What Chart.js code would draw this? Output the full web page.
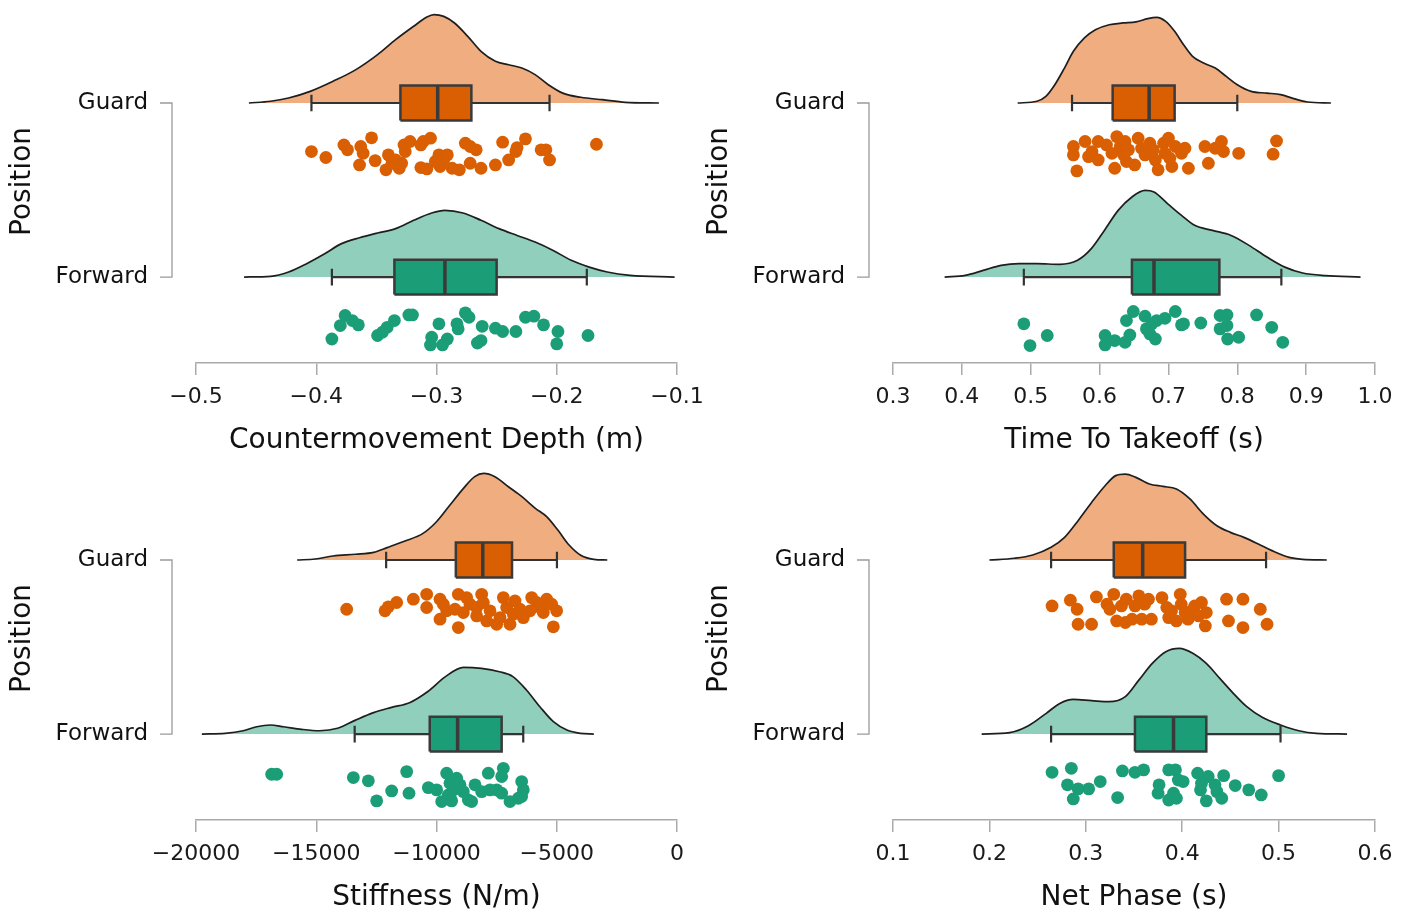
<!DOCTYPE html>
<html>
<head>
<meta charset="utf-8">
<script src="https://cdn.jsdelivr.net/npm/chart.js@4"></script>
<style>
  body { margin: 0; background: #fff; }
  #wrap { position: relative; width: 1411px; height: 913px; }
  canvas { position: absolute; }
</style>
</head>
<body>
<div id="wrap">
  <canvas id="c1" width="720" height="456" style="left:0;top:0"></canvas>
  <canvas id="c2" width="714" height="456" style="left:697px;top:0"></canvas>
  <canvas id="c3" width="720" height="456" style="left:0;top:457px"></canvas>
  <canvas id="c4" width="714" height="456" style="left:697px;top:457px"></canvas>
</div>
<script>
// categories (Guard drawn on top row, Forward below)
var categories = ['Guard', 'Forward'];

// ---- Countermovement Depth (m) ----
var depthTicks = ['\u22120.5', '\u22120.4', '\u22120.3', '\u22120.2', '\u22120.1'];
var depthGuardDensX = [-0.456,-0.438,-0.423,-0.405,-0.386,-0.367,-0.349,-0.334,-0.319,-0.308,-0.302,-0.294,-0.285,-0.274,-0.263,-0.251,-0.240,-0.229,-0.218,-0.207,-0.195,-0.180,-0.162,-0.143,-0.115];
var depthGuardDensH = [0,0.010,0.029,0.067,0.125,0.192,0.278,0.364,0.441,0.494,0.508,0.498,0.460,0.383,0.297,0.240,0.220,0.201,0.163,0.105,0.057,0.033,0.019,0.004,0];
var depthFwdDensX = [-0.460,-0.438,-0.423,-0.408,-0.393,-0.379,-0.364,-0.349,-0.334,-0.319,-0.304,-0.293,-0.278,-0.263,-0.248,-0.233,-0.218,-0.203,-0.188,-0.173,-0.158,-0.139,-0.102];
var depthFwdDensH = [0,0.004,0.029,0.077,0.134,0.192,0.226,0.253,0.278,0.326,0.368,0.383,0.368,0.326,0.278,0.239,0.201,0.153,0.096,0.057,0.029,0.010,0];
// box: [lower whisker, q1, median, q3, upper whisker]
var depthGuardBox = [-0.404,-0.330,-0.299,-0.271,-0.206];
var depthFwdBox = [-0.387,-0.335,-0.293,-0.250,-0.175];
var depthGuardPts = [-0.404,-0.392,-0.377,-0.374,-0.363,-0.361,-0.354,-0.351,-0.364,-0.342,-0.340,-0.334,-0.331,-0.327,-0.326,-0.322,-0.313,-0.311,-0.305,-0.313,-0.308,-0.298,-0.294,-0.291,-0.297,-0.287,-0.281,-0.276,-0.272,-0.267,-0.272,-0.263,-0.251,-0.245,-0.240,-0.234,-0.233,-0.226,-0.213,-0.209,-0.206,-0.167,-0.301,-0.329,-0.337];
var depthGuardJit = [0.021,-0.013,0.059,0.031,0.050,0.011,0.10,-0.031,-0.056,-0.084,0.002,-0.027,-0.075,0.059,0.021,0.079,0.059,0.079,0.098,-0.071,-0.079,0.002,-0.027,0.002,-0.065,-0.075,-0.084,0.069,0.050,0.031,-0.046,-0.075,-0.056,0.075,-0.027,0.021,0.044,0.094,0.031,0.031,-0.027,0.063,-0.036,-0.046,-0.046];
var depthFwdPts = [-0.387,-0.380,-0.376,-0.370,-0.365,-0.349,-0.345,-0.341,-0.335,-0.323,-0.320,-0.304,-0.305,-0.298,-0.295,-0.291,-0.283,-0.282,-0.276,-0.273,-0.266,-0.263,-0.262,-0.251,-0.245,-0.234,-0.226,-0.219,-0.211,-0.199,-0.200,-0.174];
var depthFwdJit = [-0.056,0.021,0.079,0.050,0.025,-0.036,-0.017,0.011,0.050,0.082,0.082,-0.046,-0.090,0.031,-0.090,-0.056,0.031,0.002,0.094,0.069,-0.079,-0.065,0.017,0.006,-0.013,-0.013,0.069,0.075,0.025,-0.013,-0.084,-0.036];

// ---- Time To Takeoff (s) ----
var takeoffTicks = ['0.3', '0.4', '0.5', '0.6', '0.7', '0.8', '0.9', '1.0'];
var takeoffGuardDensX = [0.481,0.509,0.522,0.535,0.549,0.562,0.578,0.594,0.614,0.634,0.653,0.670,0.683,0.696,0.709,0.722,0.735,0.751,0.768,0.784,0.800,0.820,0.843,0.863,0.882,0.902,0.936];
var takeoffGuardDensH = [0,0.010,0.038,0.105,0.201,0.297,0.374,0.421,0.450,0.460,0.466,0.485,0.492,0.469,0.412,0.335,0.268,0.230,0.201,0.153,0.105,0.067,0.057,0.048,0.025,0.006,0];
var takeoffFwdDensX = [0.375,0.405,0.431,0.457,0.483,0.509,0.542,0.568,0.588,0.607,0.627,0.647,0.666,0.679,0.699,0.719,0.738,0.764,0.791,0.817,0.843,0.869,0.895,0.928,0.979];
var takeoffFwdDensH = [0,0.010,0.038,0.067,0.077,0.077,0.073,0.096,0.163,0.268,0.383,0.460,0.498,0.489,0.421,0.354,0.297,0.268,0.239,0.182,0.115,0.057,0.023,0.008,0];
var takeoffGuardBox = [0.560,0.619,0.672,0.709,0.800];
var takeoffFwdBox = [0.490,0.647,0.679,0.774,0.864];
var takeoffGuardPts = [0.562,0.562,0.567,0.579,0.584,0.589,0.598,0.598,0.610,0.618,0.622,0.625,0.630,0.635,0.637,0.642,0.639,0.651,0.656,0.661,0.666,0.673,0.678,0.681,0.685,0.693,0.695,0.700,0.702,0.705,0.710,0.719,0.724,0.729,0.753,0.758,0.768,0.777,0.780,0.802,0.857,0.852];
var takeoffGuardJit = [0.050,0.002,-0.090,0.079,-0.008,0.021,0.079,-0.027,0.059,0.011,-0.075,0.107,0.050,0.002,0.079,0.031,-0.036,-0.056,0.098,0.040,0.002,0.069,0.031,-0.027,-0.084,0.069,0.011,0.098,-0.017,-0.065,0.050,0.011,0.040,-0.075,0.050,-0.046,0.040,0.079,0.021,0.011,0.082,0.006];
var takeoffFwdPts = [0.490,0.499,0.524,0.608,0.608,0.622,0.637,0.639,0.644,0.649,0.666,0.668,0.673,0.681,0.683,0.695,0.710,0.719,0.722,0.747,0.775,0.785,0.775,0.785,0.786,0.802,0.828,0.850,0.866,0.676];
var takeoffFwdJit = [0.031,-0.094,-0.036,-0.036,-0.090,-0.065,-0.075,0.050,-0.033,0.102,0.075,0.002,-0.027,-0.056,0.050,0.063,0.102,0.025,0.031,0.036,0.079,0.082,0.002,0.021,-0.056,-0.046,0.082,0.011,-0.075,0.031];

// ---- Stiffness (N/m) ----
var stiffTicks = ['\u221220000', '\u221215000', '\u221210000', '\u22125000', '0'];
var stiffGuardDensX = [-15794,-15047,-14300,-13365,-12617,-12057,-11309,-10561,-10000,-9440,-8879,-8412,-8038,-7571,-7010,-6449,-5889,-5421,-4954,-4487,-4020,-3459,-2898];
var stiffGuardDensH = [0,0.006,0.023,0.033,0.044,0.071,0.109,0.153,0.220,0.316,0.412,0.479,0.498,0.479,0.421,0.364,0.297,0.249,0.172,0.086,0.029,0.004,0];
var stiffFwdDensX = [-19757,-18785,-18037,-17477,-16916,-16355,-15608,-14860,-14112,-13365,-12617,-11869,-11122,-10374,-9626,-8879,-8131,-7384,-6823,-6262,-5701,-5140,-4579,-4019,-3458];
var stiffFwdDensH = [0,0.004,0.019,0.042,0.052,0.042,0.027,0.019,0.033,0.080,0.123,0.153,0.180,0.243,0.330,0.383,0.377,0.358,0.330,0.253,0.157,0.071,0.023,0.004,0];
var stiffGuardBox = [-12094,-9196,-8076,-6860,-4992];
var stiffFwdBox = [-13402,-10281,-9122,-7291,-6393];
var stiffGuardPts = [-13735,-12141,-12003,-11656,-10963,-10409,-10409,-9854,-9716,-9577,-9854,-9231,-9092,-9092,-8746,-8607,-8330,-8330,-8122,-8053,-7914,-7775,-7498,-7360,-7221,-7082,-6944,-6805,-6736,-6528,-6390,-6043,-5835,-5696,-5558,-5419,-5211,-5004,-5142,-8884,-6112];
var stiffGuardJit = [0.017,0.008,0.031,0.056,0.075,0.103,0.027,0.075,0.046,0.008,-0.040,0.017,0.103,-0.088,0.084,0.046,0.027,-0.021,0.103,0.056,-0.050,0.008,-0.069,-0.031,0.084,0.027,-0.069,-0.011,0.065,0.017,-0.031,0.084,0.056,0.027,-0.002,0.075,0.046,0.008,-0.084,-0.002,0.008];
var stiffFwdPts = [-16854,-16646,-13458,-12834,-12488,-11864,-11240,-11143,-10339,-9993,-9785,-9577,-9439,-9369,-9300,-9161,-9023,-8884,-8676,-8538,-8399,-8122,-7845,-7775,-7498,-7290,-7221,-7290,-6944,-6597,-6459,-6390,-6459,-9508];
var stiffFwdJit = [0.069,0.069,0.050,0.031,-0.084,-0.027,0.084,-0.040,-0.008,-0.021,-0.088,0.075,0.017,-0.084,-0.021,0.046,0.008,-0.031,-0.079,-0.088,0.008,-0.031,0.075,-0.021,-0.021,-0.040,0.103,0.056,-0.088,-0.069,0.027,-0.021,-0.059,-0.050];

// ---- Net Phase (s) ----
var phaseTicks = ['0.1', '0.2', '0.3', '0.4', '0.5', '0.6'];
var phaseGuardDensX = [0.200,0.226,0.245,0.264,0.278,0.292,0.306,0.320,0.331,0.341,0.352,0.366,0.380,0.394,0.408,0.422,0.436,0.450,0.464,0.479,0.493,0.511,0.525,0.550];
var phaseGuardDensH = [0,0.010,0.029,0.073,0.130,0.226,0.331,0.427,0.485,0.494,0.475,0.437,0.423,0.408,0.351,0.264,0.197,0.159,0.130,0.092,0.054,0.015,0.004,0];
var phaseFwdDensX = [0.192,0.221,0.240,0.259,0.273,0.287,0.306,0.324,0.341,0.355,0.369,0.383,0.397,0.411,0.425,0.439,0.453,0.467,0.483,0.502,0.521,0.539,0.571];
var phaseFwdDensH = [0,0.008,0.046,0.119,0.176,0.199,0.192,0.186,0.215,0.310,0.406,0.473,0.492,0.464,0.406,0.320,0.234,0.157,0.096,0.052,0.019,0.004,0];
var phaseGuardBox = [0.264,0.329,0.359,0.403,0.487];
var phaseFwdBox = [0.264,0.351,0.391,0.425,0.502];
var phaseGuardPts = [0.265,0.284,0.291,0.292,0.306,0.311,0.322,0.325,0.329,0.332,0.337,0.341,0.342,0.348,0.351,0.355,0.358,0.361,0.365,0.368,0.379,0.384,0.386,0.389,0.394,0.398,0.399,0.403,0.406,0.410,0.413,0.417,0.420,0.424,0.425,0.446,0.448,0.463,0.463,0.481,0.488];
var phaseGuardJit = [0.036,0.069,0.017,-0.069,-0.069,0.088,0.046,0.017,0.103,-0.050,0.036,-0.059,0.075,-0.040,0.036,0.094,-0.040,0.046,0.075,-0.040,0.084,0.027,-0.031,0.008,-0.050,0.103,0.046,-0.002,-0.040,0.008,0.036,-0.021,0.056,-0.079,-0.002,0.075,-0.050,0.075,-0.088,0.017,-0.069];
var phaseFwdPts = [0.265,0.285,0.281,0.292,0.303,0.315,0.287,0.333,0.338,0.351,0.360,0.376,0.375,0.386,0.393,0.391,0.386,0.396,0.401,0.394,0.416,0.419,0.427,0.425,0.434,0.436,0.441,0.443,0.455,0.469,0.482,0.500,0.420];
var phaseFwdJit = [0.080,0.103,0.008,-0.015,-0.015,0.027,-0.073,-0.065,0.088,0.080,0.094,0.008,-0.040,0.094,0.094,-0.040,-0.079,0.036,0.027,-0.069,0.075,-0.021,0.056,-0.084,0.008,-0.031,-0.069,0.061,0.004,-0.021,-0.050,0.061,0.017];

var FONT = '"DejaVu Sans", sans-serif';
var guardColor = '#d95f02', guardFill = '#f0ae80';
var fwdColor = '#1b9e77', fwdFill = '#8fcfbb';

// y value of each row's baseline
var rowY = { Guard: 2, Forward: 1 };

// grey bracket for the Position axis
var bracketPlugin = {
  id: 'bracket',
  afterDraw: function (chart) {
    var ys = chart.scales.y, ctx = chart.ctx;
    var x = chart.chartArea.left - 24;
    var y1 = ys.getPixelForValue(rowY.Guard), y2 = ys.getPixelForValue(rowY.Forward);
    ctx.save();
    ctx.strokeStyle = '#9a9a9a';
    ctx.lineWidth = 1.3;
    ctx.beginPath();
    ctx.moveTo(x - 12, y1); ctx.lineTo(x, y1); ctx.lineTo(x, y2); ctx.lineTo(x - 12, y2);
    ctx.stroke();
    ctx.restore();
  }
};

function rowDatasets(b, densX, densH, box, pts, jit, color, fill) {
  var line = { type: 'line', pointRadius: 0, fill: false, borderColor: '#333', spanGaps: false };
  return [
    Object.assign({}, line, {
      order: 6, data: densX.map(function (x, i) { return { x: x, y: b + densH[i] }; }),
      fill: { value: b }, backgroundColor: fill, borderColor: '#1e1e1e', borderWidth: 1.7,
      cubicInterpolationMode: 'monotone'
    }),
    Object.assign({}, line, {
      order: 5, borderWidth: 2.2,
      data: [{ x: box[0], y: b }, { x: box[1], y: b }, { x: box[1], y: null }, { x: box[3], y: b }, { x: box[4], y: b }]
    }),
    Object.assign({}, line, {
      order: 5, borderWidth: 2.2,
      data: [{ x: box[0], y: b - 0.048 }, { x: box[0], y: b + 0.048 }, { x: box[0], y: null },
             { x: box[4], y: b - 0.048 }, { x: box[4], y: b + 0.048 }]
    }),
    Object.assign({}, line, {
      order: 4, borderWidth: 0, fill: { value: b - 0.1 }, backgroundColor: color,
      data: [{ x: box[1], y: b + 0.1 }, { x: box[3], y: b + 0.1 }]
    }),
    Object.assign({}, line, {
      order: 3, borderWidth: 2.5, borderColor: '#3a3a3a',
      data: [{ x: box[1], y: b - 0.1 }, { x: box[3], y: b - 0.1 }, { x: box[3], y: b + 0.1 },
             { x: box[1], y: b + 0.1 }, { x: box[1], y: b - 0.1 }]
    }),
    Object.assign({}, line, {
      order: 2, borderWidth: 3.5, borderColor: '#3a3a3a',
      data: [{ x: box[2], y: b - 0.1 }, { x: box[2], y: b + 0.1 }]
    }),
    {
      type: 'scatter', order: 1, pointRadius: 6.4, pointBorderWidth: 0,
      backgroundColor: color, borderColor: color,
      data: pts.map(function (x, i) { return { x: x, y: b - 0.3 + jit[i] }; })
    }
  ];
}

function makePanel(id, padRight, xMin, xMax, step, tickLabels, title, guard, fwd) {
  var cv = document.getElementById(id);
  var H = cv.height;
  var datasets = rowDatasets(rowY.Guard, guard[0], guard[1], guard[2], guard[3], guard[4], guardColor, guardFill)
    .concat(rowDatasets(rowY.Forward, fwd[0], fwd[1], fwd[2], fwd[3], fwd[4], fwdColor, fwdFill));
  return new Chart(cv, {
    type: 'scatter',
    data: { datasets: datasets },
    plugins: [bracketPlugin],
    options: {
      responsive: false,
      animation: false,
      devicePixelRatio: 1,
      layout: { autoPadding: false, padding: { left: 0, right: padRight, top: 0, bottom: 0 } },
      plugins: { legend: { display: false }, tooltip: { enabled: false } },
      scales: {
        x: {
          type: 'linear', min: xMin, max: xMax,
          ticks: {
            stepSize: step, autoSkip: false, maxRotation: 0, padding: 9,
            color: '#1a1a1a', font: { family: FONT, size: 22 },
            callback: function (v) { return tickLabels[Math.round((v - xMin) / step)]; }
          },
          grid: { drawOnChartArea: false, tickLength: 12, color: '#aaa', lineWidth: 1.5 },
          border: { color: '#aaa', width: 1.5 },
          title: { display: true, text: title, color: '#111', font: { family: FONT, size: 28, lineHeight: 1.1 }, padding: { top: 0, bottom: 0 } },
          afterFit: function (s) { s.height = H - 363; s.paddingLeft = 0; s.paddingRight = 0; }
        },
        y: {
          type: 'linear', min: 0.506, max: 2.592,
          afterBuildTicks: function (s) { s.ticks = [{ value: rowY.Forward }, { value: rowY.Guard }]; },
          ticks: {
            padding: 48, color: '#111', font: { family: FONT, size: 23 },
            callback: function (v) { return categories[rowY.Guard - v]; }
          },
          grid: { display: false, drawTicks: false },
          border: { display: false },
          title: { display: true, text: 'Position', color: '#111', font: { family: FONT, size: 28, lineHeight: 1.1 }, padding: { top: 7, bottom: 0 } },
          afterFit: function (s) { s.width = 196; s.paddingTop = 0; s.paddingBottom = 0; }
        }
      }
    }
  });
}

makePanel('c1', 43, -0.5, -0.1, 0.1, depthTicks, 'Countermovement Depth (m)',
  [depthGuardDensX, depthGuardDensH, depthGuardBox, depthGuardPts, depthGuardJit],
  [depthFwdDensX, depthFwdDensH, depthFwdBox, depthFwdPts, depthFwdJit]);
makePanel('c2', 36, 0.3, 1.0, 0.1, takeoffTicks, 'Time To Takeoff (s)',
  [takeoffGuardDensX, takeoffGuardDensH, takeoffGuardBox, takeoffGuardPts, takeoffGuardJit],
  [takeoffFwdDensX, takeoffFwdDensH, takeoffFwdBox, takeoffFwdPts, takeoffFwdJit]);
makePanel('c3', 43, -20000, 0, 5000, stiffTicks, 'Stiffness (N/m)',
  [stiffGuardDensX, stiffGuardDensH, stiffGuardBox, stiffGuardPts, stiffGuardJit],
  [stiffFwdDensX, stiffFwdDensH, stiffFwdBox, stiffFwdPts, stiffFwdJit]);
makePanel('c4', 36, 0.1, 0.6, 0.1, phaseTicks, 'Net Phase (s)',
  [phaseGuardDensX, phaseGuardDensH, phaseGuardBox, phaseGuardPts, phaseGuardJit],
  [phaseFwdDensX, phaseFwdDensH, phaseFwdBox, phaseFwdPts, phaseFwdJit]);
</script>
</body>
</html>
